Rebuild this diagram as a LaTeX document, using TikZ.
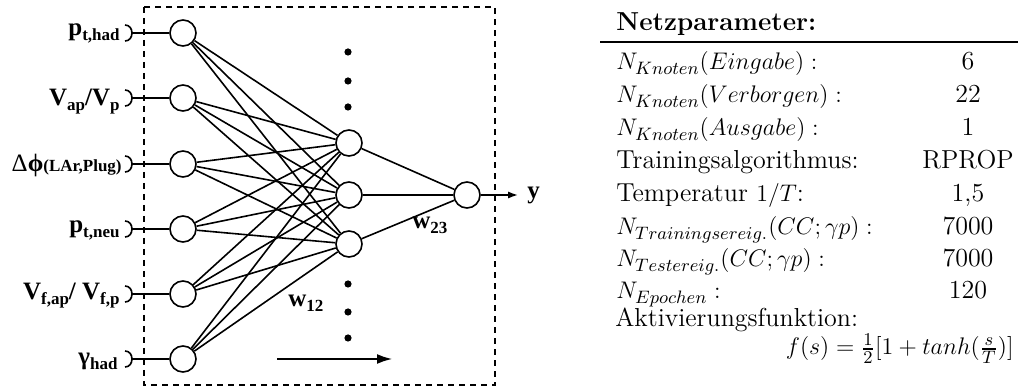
\documentclass[tikz,border=0pt]{standalone}
\usepackage{amsmath,amssymb}
\usepackage{xcolor,tikz,fontspec}
\usetikzlibrary{arrows.meta,positioning,calc}
\newfontfamily\timesfont{Liberation Serif}
\newcommand{\insub}[1]{\raisebox{-0.35ex}{\fontsize{8.5}{9}\selectfont #1}}
\newcommand{\tabfont}{\fontsize{13}{15}\selectfont}
\tikzset{
  neuron/.style={circle,draw,line width=0.8pt,minimum size=13pt,inner sep=0pt,fill=white},
  link/.style={line width=0.8pt},
  inlab/.style={font=\timesfont\bfseries\fontsize{12.5}{14}\selectfont,anchor=base east,inner sep=0pt},
  wlab/.style={font=\timesfont\bfseries\fontsize{12.5}{14}\selectfont,anchor=base west,inner sep=0pt},
  hdot/.style={circle,fill,inner sep=0pt,minimum size=3.6pt},
  prow/.style={font=\tabfont,anchor=base west,inner sep=0pt},
  pval/.style={font=\tabfont,anchor=base,inner sep=0pt}
}
\begin{document}
\begin{tikzpicture}[x=0.5pt,y=-0.5pt]
  \useasboundingbox (0,0) rectangle (1018,389);
  \draw[dash pattern=on 3pt off 2.5pt,line width=0.75pt] (144,7) rectangle (495,385);
  % Eingabeschicht
  \foreach \i/\y in {1/33,2/98,3/164,4/229,5/294,6/359}{
    \node[neuron] (in\i) at (183,\y) {};
    \coordinate (b\i) at (132,\y);
    \draw[link] (b\i) -- (in\i);
    \draw[link] ($(b\i)+(-7,-8)$) .. controls ($(b\i)+(2.3,-8)$) and ($(b\i)+(2.3,8)$) .. ($(b\i)+(-7,8)$);
  }
  \node[inlab] (l1) at (120,36) {p\insub{t,had}};
  \node[inlab] (l2) at (120,106) {V\insub{ap}/V\insub{p}};
  \node[inlab] (l3) at (122,172) {{\mdseries Δ}ϕ{\fontsize{8.5}{9}\selectfont(LAr,Plug)}};
  \node[inlab] (l4) at (120,233) {p\insub{t,neu}};
  \node[inlab] (l5) at (120,300) {V\insub{f,ap}/ V\insub{f,p}};
  \node[inlab] (l6) at (118,365) {γ\insub{had}};
  % verborgene Schicht und Ausgabe
  \foreach \j/\y in {1/143,2/195,3/244}
    \node[neuron] (hid\j) at (349,\y) {};
  \node[neuron] (out) at (467,195) {};
  \foreach \i in {1,...,6}
    \foreach \j in {1,2,3}
      \draw[link] (in\i) -- (hid\j);
  \foreach \j in {1,2,3}
    \draw[link] (hid\j) -- (out);
  \foreach \y in {52,81,107,284,312,338}
    \node[hdot] (d\y) at (348,\y) {};
  \coordinate (yend) at (518,195);
  \draw[link,-{Latex[length=5pt,width=3.6pt]}] (out) -- (yend);
  \node[wlab] (ylab) at (527,199) {y};
  \node[wlab] (w12) at (288,307) {w\insub{12}};
  \node[wlab] (w23) at (412,229) {w\insub{23}};
  \coordinate (ta) at (277,359);
  \coordinate (tb) at (393,359);
  \draw[line width=1.4pt,-{Latex[length=8pt,width=5pt]}] (ta) -- (tb);
  % Tabelle
  \node[prow,font=\tabfont\bfseries] (head) at (616,31) {Netzparameter:};
  \coordinate (rl) at (600,42);
  \coordinate (rr) at (1018,42);
  \draw[line width=1pt] (rl) -- (rr);
  \foreach \y/\l/\v [count=\k] in {
    70/{$N_{Knoten}(Eingabe):$}/6,
    103/{$N_{Knoten}(Verborgen):$}/22,
    136/{$N_{Knoten}(Ausgabe):$}/1,
    169/{Trainingsalgorithmus:}/RPROP,
    202/{Temperatur $1/T$:}/{1,5},
    235/{$N_{Trainingsereig.}(CC;\gamma p):$}/7000,
    267/{$N_{Testereig.}(CC;\gamma p):$}/7000,
    299/{$N_{Epochen}:$}/120}{
    \node[prow] (p\k) at (616,\y) {\l};
    \node[pval] (v\k) at (968,\y) {\v};
  }
  \node[prow] (akt) at (615,327) {Aktivierungsfunktion:};
  \node[prow,anchor=base east] (fs) at (1014,355) {$f(s)=\frac{1}{2}[1+tanh(\frac{s}{T})]$};
\end{tikzpicture}
\end{document}
